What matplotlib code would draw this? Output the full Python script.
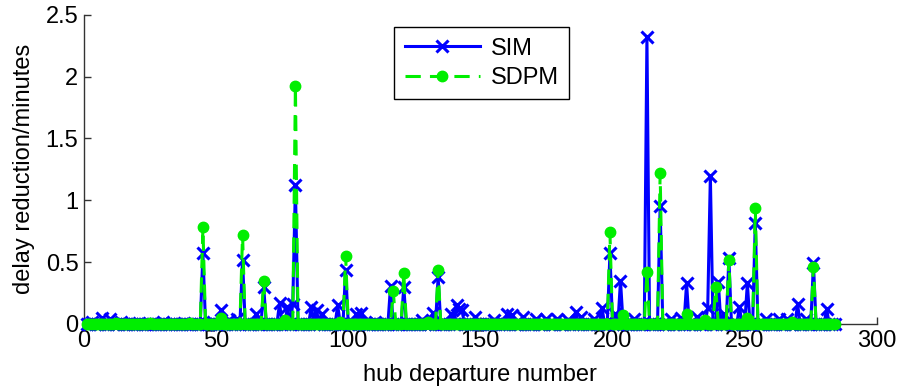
import matplotlib.pyplot as plt
from matplotlib.ticker import FormatStrFormatter
import numpy as np

plt.rcParams['font.family'] = ['Liberation Sans', 'DejaVu Sans']

n_flights = 284

# non-zero delay reductions (departure number -> minutes)
sim_idx = [3, 7, 10, 14, 21, 30, 38, 45, 49, 52, 55, 58, 60, 65, 68, 74, 77, 79,
           80, 86, 88, 90, 96, 99, 103, 105, 110, 116, 121, 128, 132, 134, 139,
           141, 142, 143, 148, 155, 160, 162, 166, 171, 175, 179, 183, 186, 188,
           193, 196, 199, 201, 203, 208, 213, 218, 222, 226, 228, 232, 236, 237,
           240, 242, 244, 248, 251, 254, 258, 263, 266, 270, 273, 276, 281]
sim_val = [0.02, 0.05, 0.04, 0.02, 0.01, 0.02, 0.01, 0.57, 0.02, 0.11, 0.03, 0.04,
           0.52, 0.08, 0.30, 0.17, 0.14, 0.16, 1.12, 0.14, 0.11, 0.08, 0.15, 0.44,
           0.08, 0.09, 0.02, 0.31, 0.30, 0.03, 0.09, 0.38, 0.08, 0.15, 0.12, 0.11,
           0.06, 0.03, 0.08, 0.07, 0.06, 0.04, 0.04, 0.04, 0.03, 0.10, 0.06, 0.04,
           0.13, 0.57, 0.08, 0.35, 0.04, 2.32, 0.95, 0.04, 0.05, 0.33, 0.06, 0.13,
           1.20, 0.34, 0.08, 0.53, 0.14, 0.33, 0.82, 0.04, 0.04, 0.04, 0.16, 0.04,
           0.49, 0.12]

sdpm_idx = [12, 25, 40, 45, 52, 60, 68, 76, 80, 97, 99, 117, 121, 130, 134,
            199, 204, 213, 218, 228, 235, 239, 244, 251, 254, 268, 276]
sdpm_val = [0.01, 0.01, 0.01, 0.78, 0.05, 0.72, 0.35, 0.03, 1.92, 0.02, 0.55,
            0.27, 0.41, 0.02, 0.44, 0.74, 0.07, 0.42, 1.22, 0.08, 0.03, 0.30,
            0.52, 0.05, 0.94, 0.02, 0.46]

x = np.arange(1, n_flights + 1)
sim = np.zeros(n_flights)
sim[np.array(sim_idx) - 1] = sim_val
sdpm = np.zeros(n_flights)
sdpm[np.array(sdpm_idx) - 1] = sdpm_val

fig = plt.figure(figsize=(9, 3.92), dpi=100)
ax = fig.add_axes([0.0933, 0.1735, 0.881, 0.789])

ax.plot(x, sim, '-x', color='#0000ff', lw=2.2, ms=9, mew=2.2,
        clip_on=False, label='SIM', zorder=3)
ax.plot(x, sdpm, '--o', color='#00ee00', lw=2.2, ms=7.5, dashes=(5, 3),
        clip_on=False, label='SDPM', zorder=4)

ax.set_xlim(0, 300)
ax.set_ylim(0, 2.5)
ax.set_xticks([0, 50, 100, 150, 200, 250, 300])
ax.set_yticks([0, 0.5, 1, 1.5, 2, 2.5])
ax.yaxis.set_major_formatter(FormatStrFormatter('%g'))

for s in ['top', 'right']:
    ax.spines[s].set_visible(False)
for s in ['left', 'bottom']:
    ax.spines[s].set_color('#333333')
    ax.spines[s].set_linewidth(1.0)
ax.tick_params(direction='in', length=5, width=1, color='#333333',
               labelsize=17, pad=4)

ax.set_xlabel('hub departure number', fontsize=17, labelpad=9)
ax.set_ylabel('delay reduction/minutes', fontsize=17, labelpad=8)

leg = ax.legend(loc='upper left', bbox_to_anchor=(0.376, 0.998), fontsize=17,
                fancybox=False, framealpha=1, edgecolor='black',
                handlelength=3.2, handletextpad=0.45, borderpad=0.45,
                labelspacing=0.3)
leg.get_frame().set_linewidth(1.0)

fig.savefig('out.png', dpi=100)
